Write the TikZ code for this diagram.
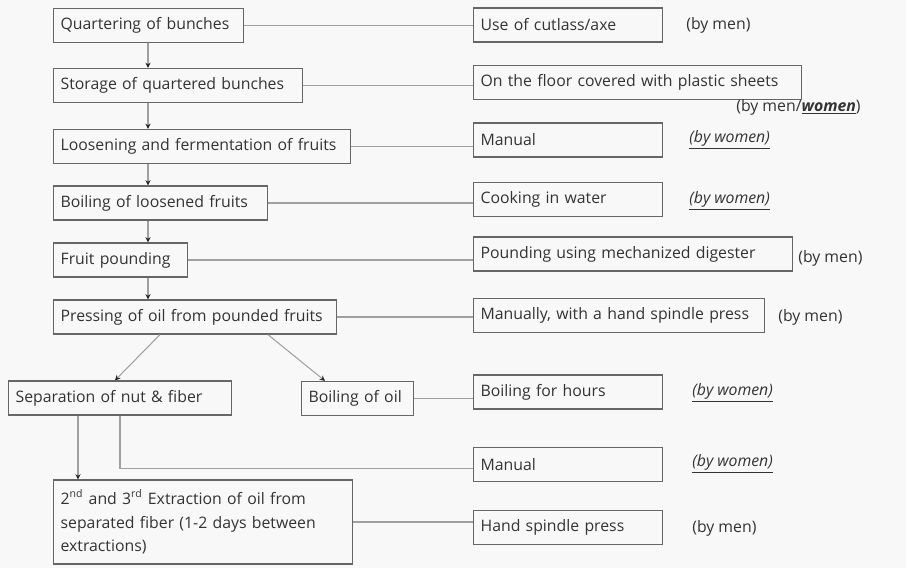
\documentclass[tikz,border=0pt]{standalone}
\usepackage{fontspec}
\setmainfont{Open Sans}
\usetikzlibrary{arrows.meta}

\definecolor{bggray}{HTML}{F8F8F8}
\definecolor{boxgray}{HTML}{666666}
\definecolor{linegray}{HTML}{A0A0A0}
\definecolor{textgray}{HTML}{333333}

\tikzset{
  stage/.style={draw=boxgray, line width=0.7pt, anchor=west, align=left,
    inner xsep=0.14cm, inner ysep=0pt, minimum height=0.68cm, text=textgray,
    font=\fontsize{9}{13.5}\selectfont},
  who/.style={anchor=west, inner sep=0pt, text=textgray,
    font=\fontsize{9}{11}\selectfont},
  flow/.style={draw=linegray, line width=0.6pt,
    -{Stealth[length=3pt,width=3pt,color=black!85]}},
  link/.style={draw=linegray, line width=0.6pt}
}
\newcommand{\wom}{\underline{\textit{(by women)}}}

\begin{document}
\begin{tikzpicture}[x=0.02cm, y=-0.02cm]
        \fill [bggray] (0,0) rectangle (906,568);
        \useasboundingbox (0,0) rectangle (906,568);
        % process steps
        \node [stage, text width=3.52cm] (l1) at (53,25.5) {Quartering of bunches};
        \node [stage, text width=4.70cm] (l2) at (53,85.5) {Storage of quartered bunches};
        \node [stage, text width=5.66cm] (l3) at (53,146.5) {Loosening and fermentation of fruits};
        \node [stage, text width=4.00cm] (l4) at (53,203) {Boiling of loosened fruits};
        \node [stage, text width=2.40cm] (l5) at (53,260) {Fruit pounding};
        \node [stage, text width=5.38cm] (l6) at (53,317) {Pressing of oil from pounded fruits};
        \node [stage, text width=4.18cm] (l7) at (8,398) {Separation of nut \& fiber};
        \node [stage, text width=1.96cm] (l8) at (301,398.5) {Boiling of oil};
        \node [stage, text width=5.70cm, minimum height=1.68cm] (l9) at (53,522)
          {2\textsuperscript{nd} and 3\textsuperscript{rd} Extraction of oil from\\
           separated fiber (1-2 days between\\ extractions)};
        % how it is done
        \node [stage, text width=3.50cm] (r1) at (473,25) {Use of cutlass/axe};
        \node [stage, text width=6.28cm] (r2) at (473,82.5) {On the floor covered with plastic sheets};
        \node [stage, text width=3.50cm] (r3) at (473,140) {Manual};
        \node [stage, text width=3.50cm] (r4) at (473,199.5) {Cooking in water};
        \node [stage, text width=6.10cm] (r5) at (473,254) {Pounding using mechanized digester};
        \node [stage, text width=5.54cm] (r6) at (473,315.5) {Manually, with a hand spindle press};
        \node [stage, text width=3.50cm] (r7) at (473,392) {Boiling for hours};
        \node [stage, text width=3.50cm] (r8) at (473,464.5) {Manual};
        \node [stage, text width=3.50cm] (r9) at (473,527.5) {Hand spindle press};
        % who does it
        \node [who] (w1) at (686,25) {(by men)};
        \node [who] (w2) at (736,107) {(by men/\underline{\textbf{\textit{women}}})};
        \node [who] (w3) at (689,140) {\wom};
        \node [who] (w4) at (689,201) {\wom};
        \node [who] (w5) at (798,258) {(by men)};
        \node [who] (w6) at (778,317) {(by men)};
        \node [who] (w7) at (692,393) {\wom};
        \node [who] (w8) at (692,464) {\wom};
        \node [who] (w9) at (692,528) {(by men)};
        % main chain
        \draw [flow] ([xshift=1.9cm]l1.south west) -- ([xshift=1.9cm]l2.north west);
        \draw [flow] ([xshift=1.9cm]l2.south west) -- ([xshift=1.9cm]l3.north west);
        \draw [flow] ([xshift=1.9cm]l3.south west) -- ([xshift=1.9cm]l4.north west);
        \draw [flow] ([xshift=1.9cm]l4.south west) -- ([xshift=1.9cm]l5.north west);
        \draw [flow] ([xshift=1.9cm]l5.south west) -- ([xshift=1.9cm]l6.north west);
        \draw [flow] ([xshift=2.14cm]l6.south west) -- ([xshift=2.14cm]l7.north west);
        \draw [flow] ([xshift=4.3cm]l6.south west) -- ([xshift=0.48cm]l8.north west);
        \draw [flow] ([xshift=1.4cm]l7.south west) -- ([xshift=1.4cm]l7.south west |- l9.north);
        % to the methods
        \draw [link] (l1.east) -- (l1.east -| r1.west);
        \draw [link] (l2.east) -- (l2.east -| r2.west);
        \draw [link] (l3.east) -- (l3.east -| r3.west);
        \draw [link] (l4.east) -- (l4.east -| r4.west);
        \draw [link] (l5.east) -- (l5.east -| r5.west);
        \draw [link] (l6.east) -- (l6.east -| r6.west);
        \draw [link] (l8.east) -- (l8.east -| r7.west);
        \draw [link] ([xshift=2.24cm]l7.south west) |- ([yshift=-0.08cm]r8.west);
        \draw [link] (l9.east) -- (l9.east -| r9.west);
      \end{tikzpicture}
\end{document}
